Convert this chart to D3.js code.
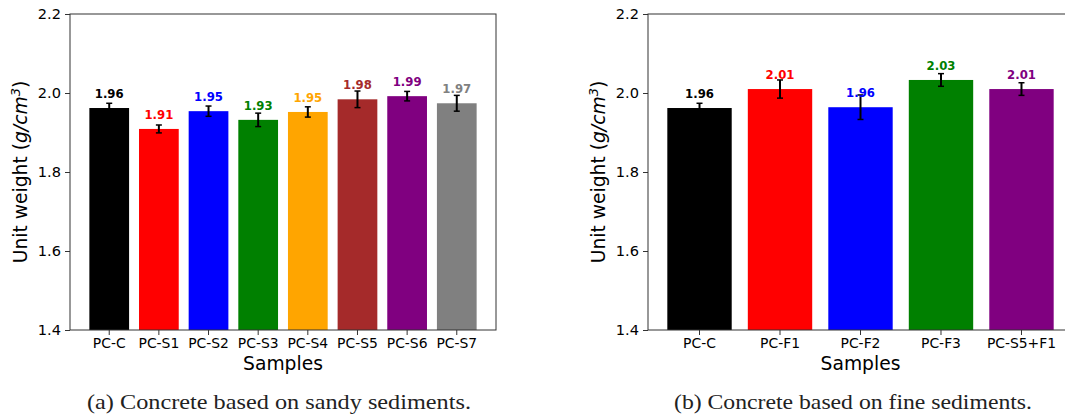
<!DOCTYPE html>
<html>
<head>
<meta charset="utf-8">
<script src="https://cdn.jsdelivr.net/npm/d3@7"></script>
<style>
  html, body { margin: 0; padding: 0; background: #fff; }
  svg { display: block; font-family: "DejaVu Sans", sans-serif; }
</style>
</head>
<body>
<svg id="chart" width="1065" height="416"></svg>
<script>
// ---- Data ----
const catsA   = ["PC-C", "PC-S1", "PC-S2", "PC-S3", "PC-S4", "PC-S5", "PC-S6", "PC-S7"];
const valsA   = [1.962, 1.909, 1.954, 1.932, 1.952, 1.984, 1.992, 1.974];
const errsA   = [0.012, 0.010, 0.013, 0.017, 0.013, 0.021, 0.012, 0.020];
const colorsA = ["#000000", "#ff0000", "#0000ff", "#008000", "#ffa500", "#a52a2a", "#800080", "#808080"];

const catsB   = ["PC-C", "PC-F1", "PC-F2", "PC-F3", "PC-S5+F1"];
const valsB   = [1.962, 2.010, 1.964, 2.033, 2.010];
const errsB   = [0.012, 0.023, 0.031, 0.016, 0.016];
const colorsB = ["#000000", "#ff0000", "#0000ff", "#008000", "#800080"];

const yTicks  = [1.4, 1.6, 1.8, 2.0, 2.2];
const captionA = "(a) Concrete based on sandy sediments.";
const captionB = "(b) Concrete based on fine sediments.";

const svg = d3.select("#chart");
const fmt = d3.format(".2f");

function panel(cfg) {
  const { cats, vals, errs, colors, x0, x1, outer, yLabX, caption, capW } = cfg;
  const top = 14, bottom = 330;
  const g = svg.append("g");

  const x = d3.scaleBand().domain(cats).range([x0, x1])
    .paddingInner(0.2).paddingOuter(outer).align(0.5);
  const y = d3.scaleLinear().domain([1.4, 2.2]).range([bottom, top]);

  // bars
  g.selectAll("rect.bar").data(cats).join("rect")
    .attr("class", "bar")
    .attr("x", d => x(d))
    .attr("width", x.bandwidth())
    .attr("y", (d, i) => y(vals[i]))
    .attr("height", (d, i) => y(1.4) - y(vals[i]))
    .attr("fill", (d, i) => colors[i]);

  // error bars
  const eb = g.selectAll("g.err").data(cats).join("g").attr("class", "err");
  const cx = d => x(d) + x.bandwidth() / 2;
  eb.append("line")
    .attr("x1", cx).attr("x2", cx)
    .attr("y1", (d, i) => y(vals[i] - errs[i]))
    .attr("y2", (d, i) => y(vals[i] + errs[i]))
    .attr("stroke", "#000").attr("stroke-width", 2);
  [1, -1].forEach(s => {
    eb.append("line")
      .attr("x1", d => cx(d) - 3).attr("x2", d => cx(d) + 3)
      .attr("y1", (d, i) => y(vals[i] + s * errs[i]))
      .attr("y2", (d, i) => y(vals[i] + s * errs[i]))
      .attr("stroke", "#000").attr("stroke-width", 1.5);
  });

  // value labels
  g.selectAll("text.val").data(cats).join("text")
    .attr("class", "val")
    .attr("x", cx)
    .attr("y", (d, i) => y(vals[i]) - 10)
    .attr("text-anchor", "middle")
    .style("font-family", "'DejaVu Sans', sans-serif")
    .attr("font-size", 11.7)
    .attr("font-weight", "bold")
    .attr("fill", (d, i) => colors[i])
    .text((d, i) => fmt(vals[i]));

  // axes
  const yAxis = d3.axisLeft(y).tickValues(yTicks).tickFormat(d3.format(".1f"))
    .tickSize(5).tickPadding(4);
  const ya = g.append("g").attr("transform", `translate(${x0},0)`).call(yAxis);
  ya.select(".domain").remove();
  ya.selectAll("text").attr("font-size", 14.6).style("font-family", "'DejaVu Sans', sans-serif").attr("fill", "#000");
  ya.selectAll("line").attr("stroke", "#333");

  const xAxis = d3.axisBottom(x).tickSize(5).tickPadding(3);
  const xa = g.append("g").attr("transform", `translate(0,${bottom})`).call(xAxis);
  xa.select(".domain").remove();
  xa.selectAll("text").attr("font-size", 13.9).style("font-family", "'DejaVu Sans', sans-serif").attr("fill", "#000");
  xa.selectAll("line").attr("stroke", "#333");

  // frame
  g.append("rect")
    .attr("x", x0).attr("y", top)
    .attr("width", x1 - x0).attr("height", bottom - top)
    .attr("fill", "none").attr("stroke", "#333").attr("stroke-width", 1);

  // axis titles
  g.append("text")
    .attr("x", (x0 + x1) / 2).attr("y", 370)
    .attr("text-anchor", "middle").attr("font-size", 18.7)
    .style("font-family", "'DejaVu Sans', sans-serif")
    .text("Samples");

  const yl = g.append("text")
    .attr("transform", `translate(${yLabX},${(top + bottom) / 2}) rotate(-90)`)
    .attr("text-anchor", "middle").attr("font-size", 18.7)
    .style("font-family", "'DejaVu Sans', sans-serif");
  yl.append("tspan").text("Unit weight (");
  yl.append("tspan").attr("font-style", "italic").text("g/cm");
  yl.append("tspan").attr("font-style", "italic").attr("font-size", 13).attr("dy", -7).text("3");
  yl.append("tspan").attr("dy", 7).text(")");

  // caption
  g.append("text")
    .attr("x", cfg.capX).attr("y", 409)
    .attr("text-anchor", "middle")
    .style("font-family", "'Liberation Serif', 'DejaVu Serif', serif")
    .attr("font-size", 21)
    .attr("fill", "#222")
    .attr("textLength", capW).attr("lengthAdjust", "spacingAndGlyphs")
    .text(caption);
}

panel({ cats: catsA, vals: valsA, errs: errsA, colors: colorsA,
        x0: 70, x1: 496, outer: 0.39, yLabX: 27, caption: captionA, capX: 279, capW: 384 });
panel({ cats: catsB, vals: valsB, errs: errsB, colors: colorsB,
        x0: 648, x1: 1073, outer: 0.24, yLabX: 605, caption: captionB, capX: 853, capW: 358 });
</script>
</body>
</html>
